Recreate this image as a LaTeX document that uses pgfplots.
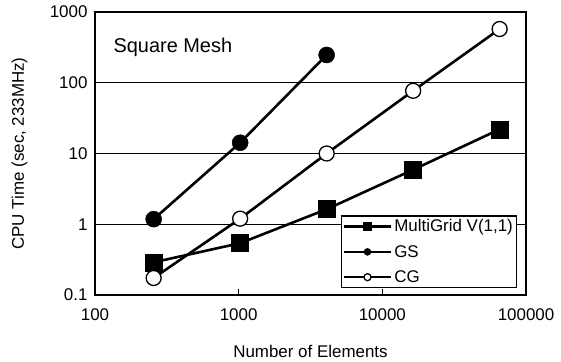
\documentclass[border=0pt]{standalone}
\usepackage{pgfplots}
\pgfplotsset{compat=1.18}
\usepackage{fontspec}
\setmainfont{Liberation Sans}
\begin{document}
\begin{tikzpicture}
\path[use as bounding box] (-95bp,-67bp) rectangle (466bp,295bp);
\begin{axis}[
  at={(0,0)}, anchor=south west,
  scale only axis, width=431bp, height=283bp,
  xmode=log, ymode=log,
  xmin=100, xmax=100000, ymin=0.1, ymax=1000,
  xtick={100,1000,10000,100000},
  xticklabels={100,1000,10000,100000},
  ytick={0.1,1,10,100,1000},
  yticklabels={0.1,1,10,100,1000},
  minor tick style={draw=none},
  xtick pos=bottom, ytick pos=left, tick align=inside,
  major tick length=6bp,
  ytick style={draw=none},
  xtick style={line width=1bp, black},
  ymajorgrids, grid style={black, line width=1.1bp},
  axis line style={line width=1.5bp},
  /pgf/number format/assume math mode=true,
  ticklabel style={font=\fontsize{17}{20}\selectfont},
  xticklabel style={yshift=-10bp},
  yticklabel style={xshift=-4bp},
  xlabel={Number of Elements},
  ylabel={CPU Time (sec, 233MHz)},
  label style={font=\fontsize{17}{20}\selectfont},
  xlabel style={at={(axis description cs:0.5,-0.2)}, anchor=center},
  ylabel style={at={(axis description cs:-0.175,0.5)}, anchor=center},
  legend style={at={(0.979,0.025)}, anchor=south east, draw=black, line width=1.2bp,
    font=\fontsize{17}{20}\selectfont, row sep=8bp, inner sep=1.5bp, cells={anchor=west}},
  legend image code/.code={\draw[mark repeat=2,mark phase=2] plot coordinates {(0bp,0bp) (23.5bp,0bp) (47bp,0bp)};},
  every axis plot/.append style={line width=2.6bp, black},
]
\addplot[mark=square*, mark size=8.5bp, mark options={solid, line width=0.5bp}, legend image post style={mark size=4bp}]
  coordinates {(256,0.29) (1024,0.54) (4096,1.63) (16384,5.9) (65536,22)};
\addlegendentry{MultiGrid V(1,1)}
\addplot[mark=*, mark size=8bp, mark options={solid, line width=0.5bp}, legend image post style={mark size=3.5bp}]
  coordinates {(256,1.18) (1024,14.2) (4096,247)};
\addlegendentry{GS}
\addplot[mark=*, mark size=7.5bp, mark options={solid, fill=white, line width=1.3bp}, legend image post style={mark size=3.5bp}]
  coordinates {(256,0.174) (1024,1.2) (4096,10) (16384,77) (65536,575)};
\addlegendentry{CG}
\node[anchor=west, font=\fontsize{20}{24}\selectfont] at (rel axis cs:0.035,0.876) {Square Mesh};
\end{axis}
\end{tikzpicture}
\end{document}
